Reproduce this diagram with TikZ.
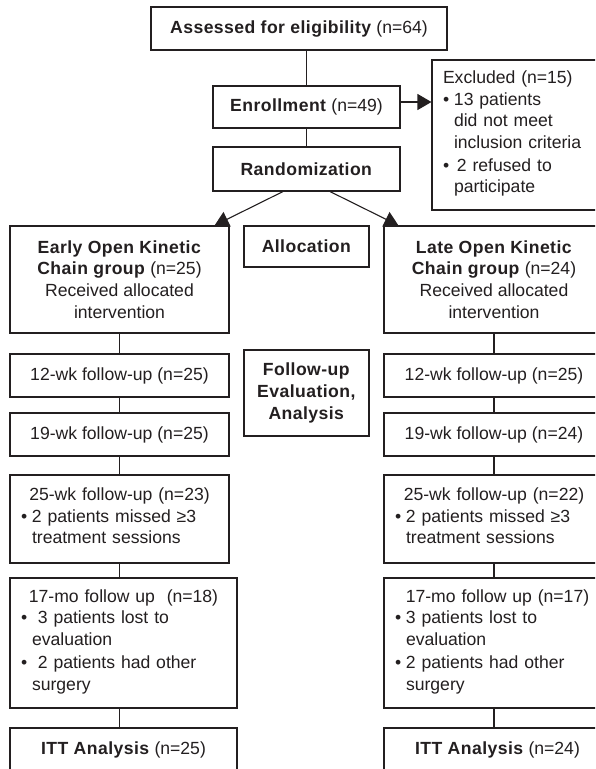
\documentclass[tikz,border=0pt]{standalone}
\usepackage{fontspec}
\setmainfont{Liberation Sans}[BoldFeatures={LetterSpace=2.5}]
\usepackage{tikz}
\usetikzlibrary{arrows.meta}
\definecolor{ink}{HTML}{231F20}
\tikzstyle{stagebox} = [draw=ink, text=ink, fill=white, line width=1.1pt, rectangle, inner sep=0pt, align=center, font=\fontsize{17.6}{21.7}\selectfont]
\tikzstyle{listbox} = [stagebox, inner xsep=11pt, align=left]
\tikzstyle{link} = [draw=ink, line width=1.1pt]
\tikzstyle{flow} = [link, -{Triangle[length=14pt,width=16pt]}]
\newcommand{\bitem}[1]{\par\noindent\makebox[11pt][l]{\textbullet}\begin{tabular}[t]{@{}l@{}}#1\end{tabular}\par}

\begin{document}
\begin{tikzpicture}[x=1pt,y=-1pt]
\useasboundingbox (0,0) rectangle (595,769);
\clip (0,0) rectangle (595,769);

\node [stagebox, minimum width=296pt, minimum height=43pt] (assess) at (299,28.5) {\textbf{Assessed for eligibility} (n=64)};
\node [stagebox, minimum width=187pt, minimum height=42pt] (enroll) at (306.5,107) {\textbf{Enrollment} (n=49)};
\node [stagebox, minimum width=187pt, minimum height=44pt] (random) at (306.5,169) {\textbf{Randomization}};
\node [listbox, text width=150pt, minimum height=150pt] (excl) at (518,135) {Excluded (n=15)
    \bitem{13 patients\\did not meet\\inclusion criteria}
    \bitem{\,2 refused to\\participate}};

\node [stagebox, minimum width=219pt, minimum height=107pt] (early) at (119.5,279.5) {\textbf{Early Open Kinetic}\\\textbf{Chain group} (n=25)\\Received allocated\\intervention};
\node [stagebox, minimum width=125pt, minimum height=41pt] (alloc) at (306.5,246.5) {\textbf{Allocation}};
\node [stagebox, minimum width=220pt, minimum height=107pt] (late) at (494,279.5) {\textbf{Late Open Kinetic}\\\textbf{Chain group} (n=24)\\Received allocated\\intervention};

\node [stagebox, minimum width=219pt, minimum height=43pt] (wk12L) at (119.5,375.5) {12-wk follow-up (n=25)};
\node [stagebox, minimum width=125pt, minimum height=86pt] (follow) at (306.5,393) {\textbf{Follow-up}\\\textbf{Evaluation,}\\\textbf{Analysis}};
\node [stagebox, minimum width=220pt, minimum height=43pt] (wk12R) at (494,375.5) {12-wk follow-up (n=25)};

\node [stagebox, minimum width=219pt, minimum height=43pt] (wk19L) at (119.5,434.5) {19-wk follow-up (n=25)};
\node [stagebox, minimum width=220pt, minimum height=43pt] (wk19R) at (494,434.5) {19-wk follow-up (n=24)};

\node [listbox, text width=197pt, minimum height=88pt] (wk25L) at (119.5,519) {\centerline{25-wk follow-up (n=23)}
    \bitem{2 patients missed ≥3\\treatment sessions}};
\node [listbox, text width=198pt, minimum height=88pt] (wk25R) at (494,519) {\centerline{25-wk follow-up (n=22)}
    \bitem{2 patients missed ≥3\\treatment sessions}};

\node [listbox, text width=205pt, minimum height=130pt] (mo17L) at (123.5,643) {\centerline{17-mo follow up\ \ (n=18)}
    \bitem{\ 3 patients lost to\\evaluation}
    \bitem{\ 2 patients had other\\surgery}};
\node [listbox, text width=205pt, minimum height=130pt] (mo17R) at (497.5,643) {\centerline{17-mo follow up (n=17)}
    \bitem{3 patients lost to\\evaluation}
    \bitem{2 patients had other\\surgery}};

\node [stagebox, minimum width=227pt, minimum height=43pt] (ittL) at (123.5,749.5) {\textbf{ITT Analysis} (n=25)};
\node [stagebox, minimum width=227pt, minimum height=43pt] (ittR) at (497.5,749.5) {\textbf{ITT Analysis} (n=24)};

\draw[link] (enroll.north |- assess.south) -- (enroll.north);
\draw[link] (enroll) -- (random);
\coordinate (exclin) at ([yshift=5pt]enroll.east);
\draw[flow] (exclin) -- (exclin -| excl.west);
\draw[flow] ([xshift=-23.5pt]random.south) -- ([xshift=-15pt]early.north east);
\draw[flow] ([xshift=23.5pt]random.south) -- ([xshift=15pt]late.north west);

\draw[link] (early) -- (wk12L);
\draw[link] (wk12L) -- (wk19L);
\draw[link] (wk19L) -- (wk25L);
\draw[link] (wk25L.south) -- (wk25L.south |- mo17L.north);
\draw[link] (wk25L.south |- mo17L.south) -- (wk25L.south |- ittL.north);
\draw[link] (late) -- (wk12R);
\draw[link] (wk12R) -- (wk19R);
\draw[link] (wk19R) -- (wk25R);
\draw[link] (wk25R.south) -- (wk25R.south |- mo17R.north);
\draw[link] (wk25R.south |- mo17R.south) -- (wk25R.south |- ittR.north);
% \node at (alloc.north) {};
\end{tikzpicture}
\end{document}
